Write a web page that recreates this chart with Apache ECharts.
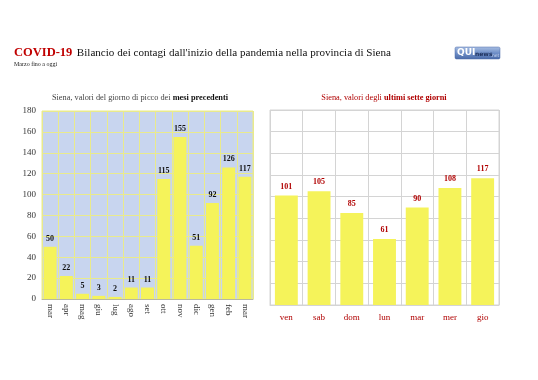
<!DOCTYPE html>
<html><head><meta charset="utf-8">
<script src="https://cdn.jsdelivr.net/npm/echarts@6/dist/echarts.min.js"></script>
<style>html,body{margin:0;padding:0;background:#fff}#c{width:538px;height:380px}</style>
</head><body><div id="c"></div>
<script>
var monthCats = ['mar','apr','mag','giu','lug','ago','set','ott','nov','dic','gen','feb','mar'];
var monthVals = [50,22,5,3,2,11,11,115,155,51,92,126,117];
var dayCats = ['ven','sab','dom','lun','mar','mer','gio'];
var dayVals = [101,105,85,61,90,108,117];
var yTicks = {min:0, max:180, interval:20};

var SERIF = '"Liberation Serif","DejaVu Serif",serif';
var chart = echarts.init(document.getElementById('c'), null, {renderer:'canvas'});
chart.setOption({
  backgroundColor:'#fff',
  animation:false,
  textStyle:{fontFamily:SERIF},
  title:[
    {left:14, top:44, padding:0, text:'{a|COVID-19} {b|Bilancio dei contagi dall\'inizio della pandemia nella provincia di Siena}',
     textStyle:{fontWeight:'normal', rich:{a:{fontFamily:SERIF,fontSize:12.5,fontWeight:'bold',color:'#c00000'},
                      b:{fontFamily:SERIF,fontSize:11.1,fontWeight:'normal',color:'#111'}}}},
    {left:14, top:61, padding:0, text:'Marzo fino a oggi', textStyle:{fontFamily:SERIF,fontSize:6,fontWeight:'normal',color:'#222'}},
    {left:140, top:94, padding:0, textAlign:'center', text:'{a|Siena, valori del giorno di picco dei }{b|mesi precedenti}',
     textStyle:{fontWeight:'normal', rich:{a:{fontFamily:SERIF,fontSize:8.3,fontWeight:'normal',color:'#444'},b:{fontFamily:SERIF,fontSize:8.3,fontWeight:'bold',color:'#111'}}}},
    {left:384, top:94, padding:0, textAlign:'center', text:'{a|Siena, valori degli }{b|ultimi sette giorni}',
     textStyle:{fontWeight:'normal', rich:{a:{fontFamily:SERIF,fontSize:8.3,fontWeight:'normal',color:'#b00000'},b:{fontFamily:SERIF,fontSize:8.3,fontWeight:'bold',color:'#b00000'}}}}
  ],
  graphic:[
    {type:'rect', shape:{x:455,y:47,width:45,height:12,r:1.5},
     style:{fill:new echarts.graphic.LinearGradient(0,0,0,1,[{offset:0,color:'#a9bfe3'},{offset:0.5,color:'#6f8fc8'},{offset:1,color:'#4a6aa8'}]),stroke:'#4a6aa8',lineWidth:0.5}},
    {type:'text', x:457, y:48.5, style:{text:'QUI', fill:'#fff', font:'bold 9px "DejaVu Sans",sans-serif'}},
    {type:'text', x:475, y:51.5, style:{text:'news', fill:'#1d2f5a', font:'bold 6px "DejaVu Sans",sans-serif'}},
    {type:'text', x:490.5, y:53, style:{text:'.net', fill:'#c8d6f0', font:'4.5px "DejaVu Sans",sans-serif'}}
  ],
  grid:[
    {left:42, right:285, top:111, bottom:81, show:true, backgroundColor:'#c8d5ef', borderColor:'#e9ea8c', borderWidth:1},
    {left:270, right:39, top:110, bottom:75, show:true, backgroundColor:'#fff', borderColor:'#d4d4d4', borderWidth:1}
  ],
  xAxis:[
    {type:'category', gridIndex:0, data:monthCats,
     axisLine:{lineStyle:{color:'#b9b9a0'}}, axisTick:{show:false},
     splitLine:{show:true, interval:0, lineStyle:{color:'#e9ea8c'}},
     axisLabel:{interval:0, rotate:-90, margin:5, fontFamily:SERIF, fontSize:9, color:'#333'}},
    {type:'category', gridIndex:1, data:dayCats,
     axisLine:{lineStyle:{color:'#d4d4d4'}}, axisTick:{show:false},
     splitLine:{show:true, interval:0, lineStyle:{color:'#d4d4d4'}},
     axisLabel:{interval:0, margin:8, fontFamily:SERIF, fontSize:9, color:'#b00000'}}
  ],
  yAxis:[
    {type:'value', gridIndex:0, min:yTicks.min, max:yTicks.max, interval:yTicks.interval,
     axisLine:{show:false}, axisTick:{show:false},
     splitLine:{lineStyle:{color:'#e9ea8c'}},
     axisLabel:{margin:6, fontFamily:SERIF, fontSize:9, color:'#333'}},
    {type:'value', gridIndex:1, min:yTicks.min, max:yTicks.max, interval:yTicks.interval,
     axisLine:{show:false}, axisTick:{show:false},
     splitLine:{lineStyle:{color:'#d4d4d4'}},
     axisLabel:{show:false}}
  ],
  series:[
    {type:'bar', xAxisIndex:0, yAxisIndex:0, data:monthVals, barCategoryGap:'20%',
     itemStyle:{color:'#f5f35a'},
     label:{show:true, position:'top', distance:4, fontFamily:SERIF, fontSize:8, fontWeight:'bold', color:'#111'}},
    {type:'bar', xAxisIndex:1, yAxisIndex:1, data:dayVals, barCategoryGap:'30%',
     itemStyle:{color:'#f5f35a'},
     label:{show:true, position:'top', distance:5, fontFamily:SERIF, fontSize:8, fontWeight:'bold', color:'#b00000'}}
  ]
});
</script></body></html>
